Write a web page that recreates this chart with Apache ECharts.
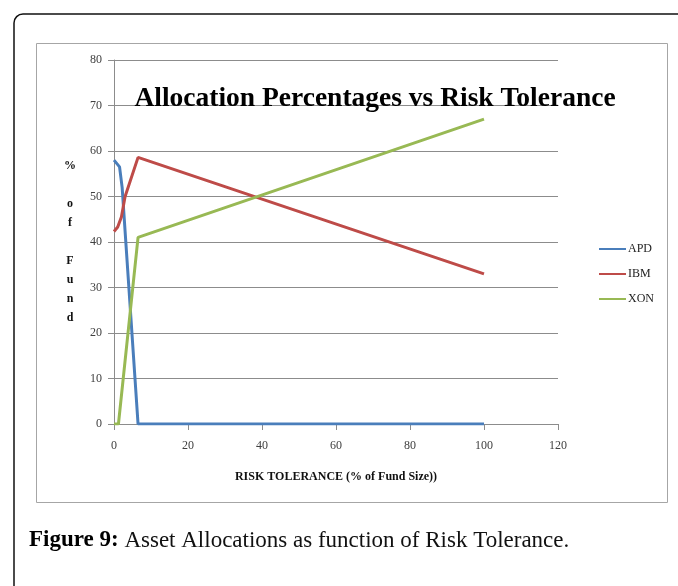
<!DOCTYPE html>
<html>
<head>
<meta charset="utf-8">
<script src="https://cdn.jsdelivr.net/npm/echarts@6/dist/echarts.min.js"></script>
<style>
  html, body { margin: 0; padding: 0; background: #fff; }
  #chart { width: 678px; height: 586px; }
</style>
</head>
<body>
<div id="chart"></div>
<script>
// Allocation (% of fund) for each asset at a given risk tolerance (% of fund size)
const seriesNames = ['APD', 'IBM', 'XON'];
const apdPoints = [[0, 58], [1.5, 56.5], [2.2, 52], [6.5, 0], [100, 0]];
const ibmPoints = [[0, 42.3], [1, 43.3], [2, 45.5], [3, 50], [6.5, 58.6], [100, 33]];
const xonPoints = [[0, 0], [1.2, 0], [6.5, 41], [100, 67]];
const seriesColors = ['#4a7ebb', '#be4b48', '#98b954'];

const xTicks = { min: 0, max: 120, interval: 20 };
const yTicks = { min: 0, max: 80, interval: 10 };

const serif = '"Liberation Serif", "DejaVu Serif", serif';
const labelColor = '#404040';

const chart = echarts.init(document.getElementById('chart'), null, { renderer: 'canvas' });

const pointSets = [apdPoints, ibmPoints, xonPoints];

chart.setOption({
  animation: false,
  backgroundColor: '#fff',
  graphic: [
    {
      type: 'rect', z: -10, silent: true,
      shape: { x: 14, y: 14, width: 720, height: 640, r: 9 },
      style: { fill: '#fff', stroke: '#111', lineWidth: 1.5 }
    },
    {
      type: 'rect', z: -9, silent: true,
      shape: { x: 36.5, y: 43.5, width: 631, height: 459 },
      style: { fill: '#fff', stroke: '#a6a6a6', lineWidth: 1 }
    },
    {
      type: 'text', z: 10, silent: true,
      x: 375, y: 85,
      style: {
        text: 'Allocation Percentages vs Risk Tolerance',
        font: 'bold 27.5px ' + serif,
        fill: '#000', align: 'center', verticalAlign: 'top'
      }
    },
    {
      type: 'text', z: 10, silent: true,
      x: 29, y: 529,
      style: {
        text: '{b|Figure 9:} Asset Allocations as function of Risk Tolerance.',
        font: '23px ' + serif,
        fill: '#111',
        rich: {
          b: { font: 'bold 23px ' + serif, fill: '#000' }
        }
      }
    }
  ],
  grid: { left: 114, right: 120, top: 60, bottom: 162, containLabel: false },
  legend: {
    orient: 'vertical',
    left: 594, top: 238,
    itemGap: 13,
    icon: 'rect',
    itemWidth: 27, itemHeight: 2,
    data: seriesNames,
    textStyle: { fontFamily: serif, fontSize: 12, color: '#222', padding: [0, 0, 0, -3] }
  },
  xAxis: {
    type: 'value',
    min: xTicks.min, max: xTicks.max, interval: xTicks.interval,
    name: 'RISK TOLERANCE (% of Fund Size))',
    nameLocation: 'middle', nameGap: 47,
    nameTextStyle: { fontFamily: serif, fontSize: 12, fontWeight: 'bold', color: '#111' },
    axisLine: { show: true, lineStyle: { color: '#8c8c8c', width: 1 } },
    axisTick: { show: true, inside: false, length: 6, lineStyle: { color: '#8c8c8c' } },
    axisLabel: { fontFamily: serif, fontSize: 12, color: labelColor, margin: 16 },
    splitLine: { show: false }
  },
  yAxis: {
    type: 'value',
    min: yTicks.min, max: yTicks.max, interval: yTicks.interval,
    name: '%\n\no\nf\n\nF\nu\nn\nd',
    nameLocation: 'middle', nameRotate: 0, nameGap: 44,
    nameTextStyle: { fontFamily: serif, fontSize: 12, fontWeight: 'bold', color: '#111', lineHeight: 19, align: 'center' },
    axisLine: { show: true, lineStyle: { color: '#8c8c8c', width: 1 } },
    axisTick: { show: true, inside: false, length: 6, lineStyle: { color: '#8c8c8c' } },
    axisLabel: { fontFamily: serif, fontSize: 12, color: labelColor, margin: 12 },
    splitLine: { show: true, lineStyle: { color: '#8c8c8c', width: 1 } }
  },
  series: seriesNames.map((name, i) => ({
    name: name,
    type: 'line',
    data: pointSets[i],
    symbol: 'none',
    smooth: false,
    color: seriesColors[i],
    lineStyle: { width: 3, color: seriesColors[i] },
    z: 3 + i
  }))
});
</script>
</body>
</html>
